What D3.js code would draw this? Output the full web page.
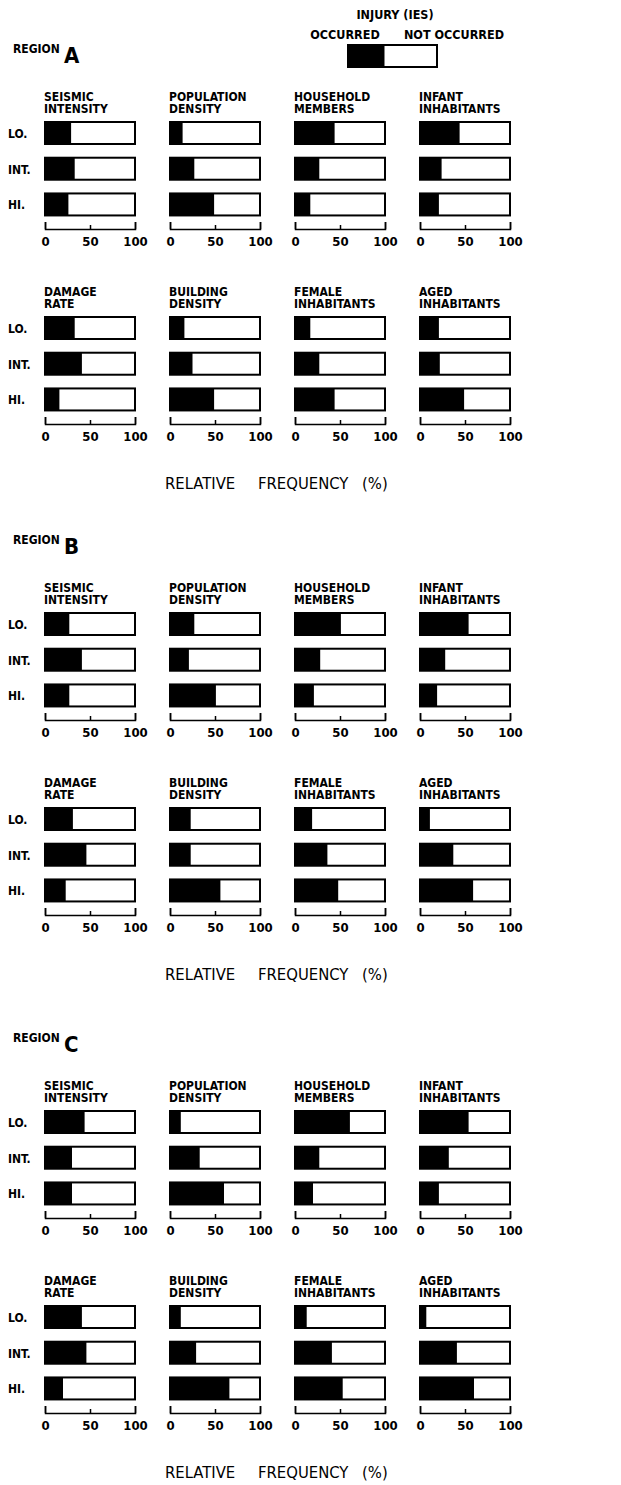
<!DOCTYPE html>
<html><head><meta charset="utf-8">
<script src="https://cdn.jsdelivr.net/npm/d3@7"></script>
<style>
body{margin:0;background:#fff;}
svg{display:block;}
text{font-family:"DejaVu Sans Condensed","Liberation Sans Narrow","DejaVu Sans",sans-serif;fill:#000;}
</style></head>
<body>
<script>
// ---- data ----
const regions = ["A", "B", "C"];
const factorLines = [
  ["SEISMIC", "INTENSITY"], ["POPULATION", "DENSITY"], ["HOUSEHOLD", "MEMBERS"], ["INFANT", "INHABITANTS"],
  ["DAMAGE", "RATE"], ["BUILDING", "DENSITY"], ["FEMALE", "INHABITANTS"], ["AGED", "INHABITANTS"]
];
const levels = ["LO.", "INT.", "HI."];
const tickValues = [0, 50, 100];
// % of injury occurred for LO., INT., HI. per factor
const regionA = [[29, 33, 26], [14, 27, 49], [44, 27, 17], [44, 24, 21],
                 [33, 41, 16], [16, 25, 49], [17, 27, 44], [21, 22, 49]];
const regionB = [[27, 41, 27], [27, 21, 51], [51, 28, 21], [54, 28, 19],
                 [31, 46, 23], [23, 23, 56], [19, 36, 48], [11, 37, 59]];
const regionC = [[44, 30, 30], [12, 33, 60], [61, 27, 20], [54, 32, 21],
                 [41, 46, 20], [12, 29, 66], [13, 41, 53], [7, 41, 60]];
const regionValues = [regionA, regionB, regionC];
const legendTitle = "INJURY (IES)";
const legendLabels = ["OCCURRED", "NOT OCCURRED"];
const legendShare = 41;
const axisTitleWords = ["RELATIVE", "FREQUENCY", "(%)"];

// ---- layout ----
const W = 621, H = 1485;
const regionY = [0, 491, 989];
const colX = [45, 170, 295, 420];
const rowTop = [122, 317];
const barW = 90, barH = 22, barStep = 32;
const titleWordX = [165, 258, 362];

const svg = d3.select("body").append("svg").attr("width", W).attr("height", H);
const x = d3.scaleLinear().domain([0, 100]).range([0, barW]);
const yLevel = d3.scaleBand().domain(levels).range([0, barStep * 3]).paddingInner((barStep - barH) / barStep).paddingOuter(0);

// legend
const lg = svg.append("g");
lg.append("text").attr("x", 395).attr("y", 19).attr("text-anchor", "middle")
  .attr("font-size", 12.5).attr("font-weight", "bold").text(legendTitle);
lg.append("text").attr("x", 345).attr("y", 39).attr("text-anchor", "middle")
  .attr("font-size", 12.5).attr("font-weight", "bold").text(legendLabels[0]);
lg.append("text").attr("x", 454).attr("y", 39).attr("text-anchor", "middle")
  .attr("font-size", 12.5).attr("font-weight", "bold").text(legendLabels[1]);
const lx = d3.scaleLinear().domain([0, 100]).range([348, 437]);
lg.append("rect").attr("x", lx(0)).attr("y", 45).attr("width", lx(100) - lx(0)).attr("height", 22)
  .attr("fill", "#fff").attr("stroke", "#000").attr("stroke-width", 2);
lg.append("rect").attr("x", lx(0)).attr("y", 45).attr("width", lx(legendShare) - lx(0)).attr("height", 22)
  .attr("fill", "#000");

regions.forEach((r, ri) => {
  const g = svg.append("g").attr("transform", `translate(0,${regionY[ri]})`);
  g.append("text").attr("x", 13).attr("y", 53).attr("font-size", 12).attr("font-weight", "bold").text("REGION");
  g.append("text").attr("x", 64).attr("y", 63).attr("font-size", 22).attr("font-weight", "bold").text(r);

  regionValues[ri].forEach((vals, fi) => {
    const row = Math.floor(fi / 4), col = fi % 4;
    const p = g.append("g").attr("transform", `translate(${colX[col]},${rowTop[row]})`);
    factorLines[fi].forEach((ln, li) => {
      p.append("text").attr("x", -1).attr("y", -21 + li * 12).attr("font-size", 12)
        .attr("font-weight", "bold").text(ln);
    });
    if (col === 0) {
      levels.forEach(lv => {
        g.append("text").attr("x", 8).attr("y", rowTop[row] + yLevel(lv) + barH / 2 + 5)
          .attr("font-size", 12).attr("font-weight", "bold").text(lv);
      });
    }
    levels.forEach((lv, li) => {
      p.append("rect").attr("x", x(0)).attr("y", yLevel(lv)).attr("width", x(100) - x(0)).attr("height", barH)
        .attr("fill", "#fff").attr("stroke", "#000").attr("stroke-width", 2);
      p.append("rect").attr("x", x(0)).attr("y", yLevel(lv)).attr("width", x(vals[li]) - x(0)).attr("height", barH)
        .attr("fill", "#000");
    });
    const ax = p.append("g").attr("transform", `translate(0,107)`)
      .call(d3.axisTop(x).tickValues(tickValues).tickSize(7).tickSizeOuter(7).tickFormat(d3.format("d")));
    ax.attr("font-family", null).attr("font-size", 13);
    ax.select(".domain").attr("stroke", "#000").attr("stroke-width", 1.5);
    ax.selectAll(".tick line").attr("stroke", "#000").attr("stroke-width", 1.5)
      .attr("y2", d => d === 50 ? -4 : -7);
    ax.selectAll(".tick text").attr("y", 17).attr("dy", 0).attr("font-weight", "bold").attr("fill", "#000");
  });

  axisTitleWords.forEach((w, wi) => {
    g.append("text").attr("x", titleWordX[wi]).attr("y", 489).attr("font-size", 16.5).text(w);
  });
});
</script>
</body></html>
